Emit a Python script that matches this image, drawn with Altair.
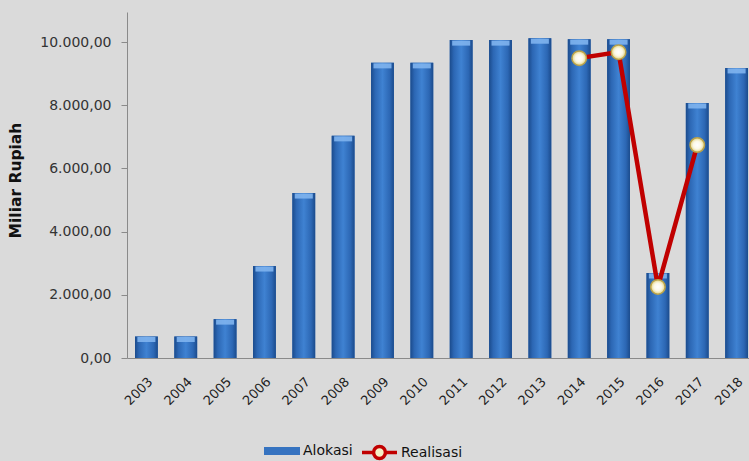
import altair as alt
import pandas as pd

years = [str(y) for y in range(2003, 2019)]
alokasi = [680, 680, 1230, 2910, 5220, 7030, 9340, 9340, 10060, 10060, 10120, 10090, 10090, 2690, 8070, 9180]
real_years = ["2014", "2015", "2016", "2017"]
realisasi = [9490, 9680, 2250, 6740]
y_ticks = [0, 2000, 4000, 6000, 8000, 10000]

bars_df = pd.DataFrame({"Tahun": years, "Nilai": alokasi, "Seri": ["Alokasi"] * len(years)})
line_df = pd.DataFrame({"Tahun": real_years, "Nilai": realisasi, "Seri": ["Realisasi"] * len(real_years)})

FONT = "DejaVu Sans"

x_scale = alt.Scale(domain=years, paddingInner=0.42, paddingOuter=0.114, align=0.89)
y_scale = alt.Scale(domain=[0, 10950], nice=False, zero=True)

label_expr = ("replace(replace(replace(format(datum.value, ',.2f'), ',', '#'), '.', ','), '#', '.')")

x_enc = alt.X("Tahun:N", scale=x_scale, sort=years,
              axis=alt.Axis(title=None, labelAngle=-45, ticks=False, domainColor="#8a8a8a",
                            labelFont=FONT, labelFontSize=13, labelColor="#222222",
                            labelPadding=17, grid=False))
y_enc = alt.Y("Nilai:Q", scale=y_scale,
              axis=alt.Axis(title="Miliar Rupiah", values=y_ticks, labelExpr=label_expr,
                            domainColor="#8a8a8a", tickColor="#8a8a8a", tickSize=6,
                            labelFont=FONT, labelFontSize=14, labelColor="#333333",
                            labelPadding=10, grid=False,
                            titleFont=FONT, titleFontSize=15.5, titleFontWeight="bold",
                            titleColor="#111111", titleX=-104, titleY=168))

rect_path = "M-1,-0.22L1,-0.22L1,0.22L-1,0.22Z"
line_sym_path = ("M-1,0L-0.34,0M0.34,0L1,0"
                 "M0.34,0A0.34,0.34 0 1,1 -0.34,0A0.34,0.34 0 1,1 0.34,0Z")

# base bars (carry the legend)
bars_base = alt.Chart(bars_df).mark_bar().encode(
    x=x_enc, y=y_enc,
    fill=alt.Fill("Seri:N", scale=alt.Scale(domain=["Alokasi"], range=["#3673c0"]),
                  legend=alt.Legend(title=None, orient="none", legendX=137, legendY=421,
                                    symbolType=rect_path, symbolSize=1296,
                                    symbolStrokeWidth=0,
                                    labelFont=FONT, labelFontSize=14, labelColor="#111111",
                                    labelOffset=3)),
)

bar_grad = alt.LinearGradient(
    gradient="linear", x1=0, x2=1, y1=0, y2=0,
    stops=[alt.GradientStop(offset=0, color="#1b4b8c"),
           alt.GradientStop(offset=0.18, color="#2c67b4"),
           alt.GradientStop(offset=0.5, color="#3f82d2"),
           alt.GradientStop(offset=0.82, color="#2c67b4"),
           alt.GradientStop(offset=1, color="#1b4b8c")])

bars_grad = alt.Chart(bars_df).mark_bar(fill=bar_grad).encode(x=x_enc, y=y_enc)

bevel = alt.Chart(bars_df).mark_tick(color="#7fb4ee", thickness=5, size=18, yOffset=3,
                                     opacity=0.9).encode(x=x_enc, y=y_enc)

line = alt.Chart(line_df).mark_line(strokeWidth=4.5).encode(
    x=x_enc, y=y_enc,
    stroke=alt.Stroke("Seri:N", scale=alt.Scale(domain=["Realisasi"], range=["#c00000"]),
                      legend=alt.Legend(title=None, orient="none", legendX=233, legendY=421,
                                        symbolType=line_sym_path, symbolSize=1225,
                                        symbolStrokeWidth=3.5, symbolFillColor="#f4efc6",
                                        labelFont=FONT, labelFontSize=14, labelColor="#111111",
                                        labelOffset=2)),
)

pt_grad = alt.RadialGradient(
    gradient="radial",
    stops=[alt.GradientStop(offset=0, color="#ffffff"),
           alt.GradientStop(offset=0.55, color="#fbf8e6"),
           alt.GradientStop(offset=1, color="#e2d27a")])

points = alt.Chart(line_df).mark_point(shape="circle", filled=True, fill=pt_grad, size=210,
                                       stroke="#b9a24a", strokeWidth=1.5, opacity=1).encode(
    x=x_enc, y=y_enc)

chart = alt.layer(bars_base, bars_grad, bevel, line, points).resolve_legend(
    fill="independent", stroke="independent"
).properties(
    width=622, height=346,
    background="#dadada",
    padding={"left": 127, "top": 12, "right": 0, "bottom": 103},
    autosize=alt.AutoSizeParams(type="none"),
).configure_view(stroke=None)

chart.save("out.html", embed_options={"renderer": "svg", "actions": False})
